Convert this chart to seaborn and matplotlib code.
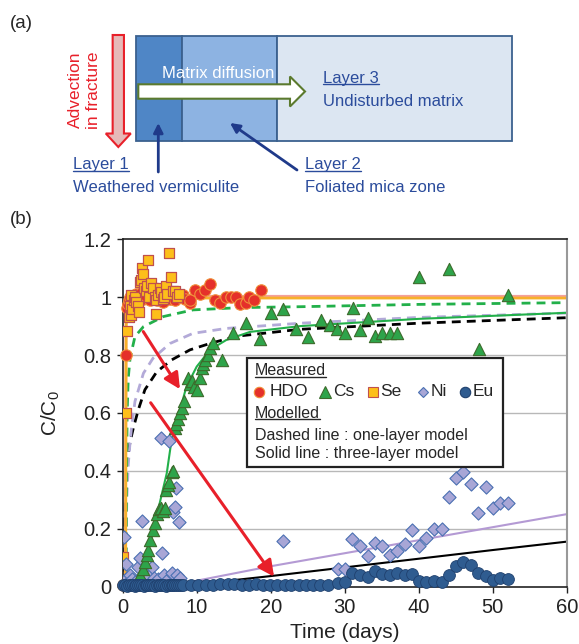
import matplotlib
matplotlib.use('Agg')
import matplotlib.pyplot as plt
import matplotlib.patches as mpatches
from matplotlib.lines import Line2D
from matplotlib.ticker import FuncFormatter
import seaborn as sns

# ---- measured data (time in days, C/C0) ----
hdo_t = [0.05, 0.4, 0.55, 0.7, 0.85, 1.0, 1.2, 1.4, 1.6, 1.8, 2.0, 2.2, 2.5, 2.8, 3.1, 3.4,
         3.7, 4.0, 4.3, 4.6, 4.9, 5.2, 5.5, 5.8, 6.1, 6.4, 6.7, 7.0, 7.4, 7.8, 8.15, 8.4,
         9.05, 9.1, 9.8, 10.4, 11.1, 11.8, 12.5, 13.2, 13.9, 14.6, 15.3, 15.9, 16.6, 17.1,
         17.8, 18.7]
hdo_v = [0.005, 0.80, 0.962, 0.975, 0.99, 1.0, 0.985, 1.005, 0.995, 1.01, 0.99, 1.0, 1.015,
         0.995, 1.005, 1.02, 0.99, 1.01, 1.0, 0.99, 1.015, 1.0, 0.985, 1.01, 1.02, 0.995,
         1.005, 0.99, 1.01, 1.0, 1.008, 0.995, 0.98, 0.99, 1.025, 1.01, 1.025, 1.045, 0.99,
         0.98, 1.0, 1.0, 1.0, 0.975, 0.98, 1.0, 0.99, 1.024]

se_t = [0.1, 0.45, 0.63, 0.8, 1.0, 1.12, 1.17, 1.3, 1.5, 1.7, 1.84, 2.07, 2.25, 2.3, 2.45,
        2.56, 2.75, 2.9, 3.1, 3.3, 3.46, 3.6, 3.87, 4.1, 4.3, 4.46, 4.55, 4.77, 5.0, 5.2,
        5.4, 5.6, 5.85, 6.0, 6.26, 6.5, 6.8, 7.0, 7.3, 7.6]
se_v = [0.103, 0.60, 0.883, 0.93, 0.97, 0.937, 1.008, 0.96, 0.99, 1.0, 0.985, 0.97, 0.95,
        1.051, 1.06, 1.102, 1.079, 1.03, 1.02, 1.04, 1.128, 1.0, 1.048, 1.03, 1.0, 0.942,
        0.99, 1.008, 1.03, 1.019, 0.995, 1.0, 1.04, 1.01, 1.154, 1.071, 1.021, 1.02, 1.0, 1.01]

cs_t = [1.0, 1.8, 2.3, 2.7, 3.0, 3.3, 3.46, 3.7, 4.05, 4.35, 4.7, 4.95, 5.2, 5.45, 5.7, 5.9,
        6.1, 6.3, 6.6, 6.8, 7.07, 7.2, 7.5, 7.7, 7.97, 8.3, 8.87, 9.1, 9.3, 9.6, 10.1, 10.5,
        10.7, 10.9, 11.1, 11.5, 11.8, 12.2, 13.4, 14.95, 16.6, 18.5, 20.0, 21.6, 23.4, 25.1,
        26.75, 28.0, 29.0, 30.0, 31.1, 32.1, 33.1, 34.1, 35.1, 36.1, 37.1, 40.0, 44.1, 48.1,
        52.0]
cs_v = [0.005, 0.01, 0.04, 0.06, 0.086, 0.11, 0.126, 0.16, 0.195, 0.22, 0.25, 0.267, 0.27,
        0.26, 0.27, 0.333, 0.35, 0.362, 0.397, 0.40, 0.547, 0.56, 0.58, 0.60, 0.616, 0.64,
        0.72, 0.70, 0.71, 0.69, 0.68, 0.72, 0.754, 0.77, 0.783, 0.80, 0.823, 0.84, 0.783,
        0.875, 0.91, 0.854, 0.946, 0.958, 0.891, 0.861, 0.921, 0.904, 0.89, 0.875, 0.964,
        0.887, 0.929, 0.867, 0.875, 0.875, 0.875, 1.069, 1.099, 0.822, 1.008]

ni_t = [0.2, 0.45, 0.6, 0.8, 1.0, 1.3, 1.6, 2.0, 2.3, 2.6, 2.8, 3.0, 3.3, 3.6, 3.9, 4.2, 4.5,
        4.8, 5.2, 5.35, 5.6, 5.9, 6.3, 6.6, 6.75, 7.05, 7.2, 7.3, 7.6, 7.8, 21.6, 29.1, 30.0,
        31.0, 32.1, 33.1, 34.1, 35.1, 36.1, 37.1, 38.1, 39.05, 40.0, 41.0, 42.1, 43.1, 44.05,
        45.0, 46.0, 47.0, 48.05, 49.05, 50.0, 51.0, 52.0]
ni_v = [0.172, 0.077, 0.03, 0.02, 0.04, 0.025, 0.015, 0.068, 0.097, 0.227, 0.03, 0.045, 0.02,
        0.035, 0.068, 0.03, 0.015, 0.025, 0.512, 0.115, 0.04, 0.02, 0.504, 0.045, 0.259,
        0.274, 0.339, 0.04, 0.224, 0.03, 0.158, 0.06, 0.062, 0.163, 0.14, 0.106, 0.15, 0.14,
        0.11, 0.124, 0.146, 0.195, 0.14, 0.167, 0.20, 0.20, 0.308, 0.374, 0.397, 0.353,
        0.253, 0.343, 0.272, 0.287, 0.287]

eu_t = [0.1, 0.35, 0.6, 0.85, 1.1, 1.35, 1.6, 1.85, 2.1, 2.35, 2.6, 2.85, 3.1, 3.35, 3.6,
        3.85, 4.1, 4.35, 4.6, 4.85, 5.1, 5.35, 5.6, 5.85, 6.1, 6.35, 6.6, 6.85, 7.1, 7.35,
        7.6, 7.85, 8.2, 9.2, 10.2, 11.2, 12.2, 13.2, 14.2, 15.1, 16.1, 17.0, 18.0, 19.0,
        19.9, 20.9, 21.9, 22.8, 23.8, 24.8, 25.7, 26.7, 27.7, 29.05, 30.0, 31.0, 32.1, 33.1,
        34.1, 35.1, 36.1, 37.1, 38.1, 39.05, 40.0, 41.0, 42.1, 43.1, 44.05, 45.0, 46.0, 47.0,
        48.05, 49.05, 50.0, 51.0, 52.0]
eu_v = [0.004, 0.005, 0.003, 0.006, 0.004, 0.005, 0.003, 0.004, 0.006, 0.004, 0.005, 0.003,
        0.004, 0.005, 0.004, 0.006, 0.004, 0.003, 0.005, 0.004, 0.006, 0.004, 0.005, 0.003,
        0.004, 0.005, 0.004, 0.006, 0.004, 0.005, 0.004, 0.005, 0.004, 0.005, 0.006, 0.005,
        0.006, 0.007, 0.01, 0.007, 0.006, 0.006, 0.007, 0.006, 0.005, 0.006, 0.005, 0.005,
        0.004, 0.005, 0.004, 0.005, 0.005, 0.011, 0.014, 0.048, 0.04, 0.032, 0.052, 0.044,
        0.04, 0.046, 0.04, 0.044, 0.02, 0.017, 0.02, 0.014, 0.04, 0.072, 0.086, 0.074, 0.048,
        0.036, 0.022, 0.03, 0.025]

# ---- modelled curves ----
hdo_mod_t = [0.36, 0.4, 0.44, 0.52, 0.7, 1.2, 60]
hdo_mod_v = [0.0, 0.5, 0.9, 0.975, 0.995, 1.003, 1.003]
se_mod_t = [0.4, 0.43, 0.47, 0.56, 0.8, 1.5, 60]
se_mod_v = [0.0, 0.5, 0.9, 0.97, 0.99, 0.997, 0.997]
cs1_t = [0.45, 0.5, 0.6, 0.75, 1.0, 1.66, 2.8, 5.5, 9.5, 16, 24, 40, 60]
cs1_v = [0.0, 0.3, 0.6, 0.72, 0.79, 0.864, 0.898, 0.933, 0.956, 0.964, 0.967, 0.975, 0.981]
ni1_t = [0.4, 0.55, 0.75, 1.0, 1.2, 1.66, 2.8, 4.1, 6.4, 9.5, 14, 24, 40, 60]
ni1_v = [0.0, 0.3, 0.42, 0.5, 0.55, 0.64, 0.737, 0.789, 0.84, 0.875, 0.892, 0.91, 0.93, 0.945]
eu1_t = [0.2, 0.3, 0.5, 1.0, 1.43, 2.1, 3.0, 4.6, 6.6, 9.1, 11.8, 15.4, 24, 40, 60]
eu1_v = [0.0, 0.25, 0.42, 0.5, 0.547, 0.61, 0.68, 0.742, 0.783, 0.818, 0.84, 0.865, 0.889,
         0.91, 0.929]
cs3_t = [2.0, 2.8, 4.1, 5.0, 5.95, 6.6, 7.5, 8.6, 10, 11.8, 14, 17.2, 24, 40, 60]
cs3_v = [0.0, 0.08, 0.184, 0.288, 0.391, 0.506, 0.587, 0.69, 0.76, 0.818, 0.852, 0.88, 0.90,
         0.925, 0.946]
ni3_t = [7, 10, 20, 30, 40, 50, 60]
ni3_v = [0.0, 0.02, 0.07, 0.115, 0.16, 0.205, 0.25]
eu3_t = [7, 10, 20, 30, 40, 50, 60]
eu3_v = [0.0, 0.008, 0.036, 0.066, 0.096, 0.126, 0.155]

# ---- style ----
sns.set_style('white')
plt.rcParams['font.family'] = ['Liberation Sans', 'DejaVu Sans']
plt.rcParams['mathtext.fontset'] = 'custom'
plt.rcParams['mathtext.rm'] = 'Liberation Sans'
plt.rcParams['mathtext.it'] = 'Liberation Sans:italic'

c_hdo, c_hdo_e = '#e5302a', '#f0903a'
c_cs, c_cs_e = '#2ea44a', '#3d6b2c'
c_se, c_se_e = '#fdbf1a', '#c0504d'
c_ni, c_ni_e = '#a8a6d6', '#4a70b2'
c_eu, c_eu_e = '#2f5c90', '#1f406e'
red = '#e8202a'
blue_txt = '#2b4c9c'
navy = '#1f3a8a'

W, H = 579, 644
fig = plt.figure(figsize=(W / 100, H / 100), dpi=100)

# =============== panel (a): schematic ===============
axa = fig.add_axes([0, 1 - 200 / H, 1, 200 / H])
axa.set_xlim(0, W)
axa.set_ylim(200, 0)
axa.axis('off')

edge = '#3b618f'
axa.add_patch(mpatches.Rectangle((135.7, 36), 46, 105, fc='#4f86c6', ec=edge, lw=1.3))
axa.add_patch(mpatches.Rectangle((181.7, 36), 95.6, 105, fc='#8db3e2', ec=edge, lw=1.3))
axa.add_patch(mpatches.Rectangle((277.3, 36), 235, 105, fc='#dce6f2', ec=edge, lw=1.3))

axa.add_patch(mpatches.FancyArrow(118.3, 35, 0, 112, width=11.3, head_width=25,
                                  head_length=13.5, length_includes_head=True,
                                  fc='#e6b9b8', ec=red, lw=1.5))
axa.add_patch(mpatches.FancyArrow(138.3, 91.5, 166.7, 0, width=14.4, head_width=30,
                                  head_length=15, length_includes_head=True,
                                  fc='white', ec='#5b7a2e', lw=1.5))

axa.text(84, 90, 'Advection\nin fracture', rotation=90, ha='center', va='center',
         color=red, fontsize=12.5, linespacing=1.25)
axa.text(162, 73, 'Matrix diffusion', color='white', fontsize=12, va='center')

t_l3 = axa.text(323, 78, 'Layer 3', color=blue_txt, fontsize=12, va='center')
axa.text(323, 101, 'Undisturbed matrix', color=blue_txt, fontsize=12, va='center')
t_l1 = axa.text(73, 165, 'Layer 1', color=blue_txt, fontsize=12, va='center')
axa.text(73, 187, 'Weathered vermiculite', color=blue_txt, fontsize=12, va='center')
t_l2 = axa.text(305, 165, 'Layer 2', color=blue_txt, fontsize=12, va='center')
axa.text(305, 187, 'Foliated mica zone', color=blue_txt, fontsize=12, va='center')

arw = dict(arrowstyle='-|>', color=navy, lw=2, mutation_scale=14, shrinkA=0, shrinkB=0)
axa.annotate('', xy=(158.3, 123), xytext=(158.3, 172), arrowprops=arw)
axa.annotate('', xy=(230, 123), xytext=(297, 170), arrowprops=arw)

fig.text(10 / W, 1 - 24 / H, '(a)', fontsize=13.5, va='center')
fig.text(10 / W, 1 - 220 / H, '(b)', fontsize=13.5, va='center')

# =============== panel (b): breakthrough curves ===============
ax = fig.add_axes([122.7 / W, 1 - 586.5 / H, 444 / W, 347.2 / H])
ax.set_xlim(0, 60)
ax.set_ylim(0, 1.2)
ax.set_yticks([0, 0.2, 0.4, 0.6, 0.8, 1.0, 1.2])
ax.set_xticks([0, 10, 20, 30, 40, 50, 60])
ax.yaxis.set_major_formatter(FuncFormatter(lambda v, p: f'{v:g}'))
for yv in [0.2, 0.4, 0.6, 0.8, 1.0]:
    ax.axhline(yv, color='#b8b8b8', lw=1.0, zorder=0)

dash = (0, (3.2, 2.2))
sns.lineplot(x=eu1_t, y=eu1_v, color='black', lw=2, linestyle=dash, estimator=None,
             sort=False, ax=ax, zorder=2)
sns.lineplot(x=ni1_t, y=ni1_v, color='#b3aad8', lw=2, linestyle=dash, estimator=None,
             sort=False, ax=ax, zorder=2)
sns.lineplot(x=cs1_t, y=cs1_v, color='#22b04a', lw=2, linestyle=dash, estimator=None,
             sort=False, ax=ax, zorder=2)
sns.lineplot(x=eu3_t, y=eu3_v, color='black', lw=1.5, estimator=None, sort=False, ax=ax,
             zorder=2)
sns.lineplot(x=ni3_t, y=ni3_v, color='#b49ad4', lw=1.5, estimator=None, sort=False, ax=ax,
             zorder=2)
sns.lineplot(x=cs3_t, y=cs3_v, color='#22b04a', lw=1.5, estimator=None, sort=False, ax=ax,
             zorder=2)
sns.lineplot(x=hdo_mod_t, y=hdo_mod_v, color='#f4a09c', lw=2, estimator=None, sort=False,
             ax=ax, zorder=2)
sns.lineplot(x=se_mod_t, y=se_mod_v, color='#f7b02a', lw=2, estimator=None, sort=False,
             ax=ax, zorder=2)

sns.scatterplot(x=hdo_t, y=hdo_v, marker='o', s=68, color=c_hdo, edgecolor=c_hdo_e,
                linewidth=0.8, ax=ax, zorder=3, clip_on=False)
sns.scatterplot(x=se_t, y=se_v, marker='s', s=55, color=c_se, edgecolor=c_se_e,
                linewidth=0.9, ax=ax, zorder=3)
sns.scatterplot(x=ni_t, y=ni_v, marker='D', s=45, color=c_ni, edgecolor=c_ni_e,
                linewidth=0.8, ax=ax, zorder=3)
sns.scatterplot(x=cs_t, y=cs_v, marker='^', s=78, color=c_cs, edgecolor=c_cs_e,
                linewidth=0.8, ax=ax, zorder=3)
sns.scatterplot(x=eu_t, y=eu_v, marker='o', s=72, color=c_eu, edgecolor=c_eu_e,
                linewidth=0.6, ax=ax, zorder=3, clip_on=False)

ra = dict(arrowstyle='-|>', color=red, lw=2.2, mutation_scale=24, shrinkA=0, shrinkB=0)
ax.annotate('', xy=(7.74, 0.682), xytext=(2.78, 0.881), arrowprops=ra, zorder=4)
ax.annotate('', xy=(20.45, 0.034), xytext=(3.78, 0.635), arrowprops=ra, zorder=4)

ax.set_xlabel('Time (days)', fontsize=15, color='#222222')
ax.set_ylabel('C/C$_0$', fontsize=15, color='#222222')
ax.xaxis.set_label_coords(0.5, -0.105)
ax.yaxis.set_label_coords(-0.137, 0.5)
ax.tick_params(axis='both', labelsize=14.5, colors='#222222', direction='out',
               length=4, width=1, left=True, bottom=True, pad=4)
for side in ['left', 'bottom', 'top']:
    ax.spines[side].set_color('#222222')
    ax.spines[side].set_linewidth(1.2)
ax.spines['right'].set_color('#999999')
ax.spines['right'].set_linewidth(1.5)

# ---- legend box ----
ax.add_patch(mpatches.Rectangle((0.279, 0.345), 0.578, 0.312, transform=ax.transAxes,
                                fc='white', ec='#222222', lw=1.6, zorder=10))
lfs = 11.5
t_meas = ax.text(0.298, 0.622, 'Measured', transform=ax.transAxes, fontsize=lfs,
                 va='center', zorder=11)
t_mod = ax.text(0.298, 0.499, 'Modelled', transform=ax.transAxes, fontsize=lfs,
                va='center', zorder=11)
ax.text(0.298, 0.436, 'Dashed line : one-layer model', transform=ax.transAxes,
        fontsize=lfs, va='center', zorder=11)
ax.text(0.298, 0.382, 'Solid line : three-layer model', transform=ax.transAxes,
        fontsize=lfs, va='center', zorder=11)
leg_items = [('HDO', 'o', c_hdo, c_hdo_e, 0.308, 0.331, 7.5),
             ('Cs', '^', c_cs, c_cs_e, 0.456, 0.473, 8),
             ('Se', 's', c_se, c_se_e, 0.563, 0.581, 6.5),
             ('Ni', 'D', c_ni, c_ni_e, 0.676, 0.693, 5.5),
             ('Eu', 'o', c_eu, c_eu_e, 0.770, 0.787, 7.5)]
for name, mk, fc, ec, mx, tx, ms in leg_items:
    ax.plot([mx], [0.561], marker=mk, ms=ms, mfc=fc, mec=ec, mew=0.8, ls='none',
            transform=ax.transAxes, zorder=11, clip_on=False)
    ax.text(tx, 0.561, name, transform=ax.transAxes, fontsize=lfs + 1, va='center',
            zorder=11)

# ---- underlines ----
fig.canvas.draw()
rend = fig.canvas.get_renderer()
inv = fig.transFigure.inverted()
for txt in [t_l1, t_l2, t_l3, t_meas, t_mod]:
    bb = txt.get_window_extent(renderer=rend)
    (x0, y0), (x1, _) = inv.transform([(bb.x0, bb.y0), (bb.x1, bb.y0)])
    y = y0 + 1.5 / H
    fig.add_artist(Line2D([x0, x1], [y, y], transform=fig.transFigure,
                          color=txt.get_color(), lw=1.0, zorder=20))

fig.savefig('out.png', dpi=100, facecolor='white')
